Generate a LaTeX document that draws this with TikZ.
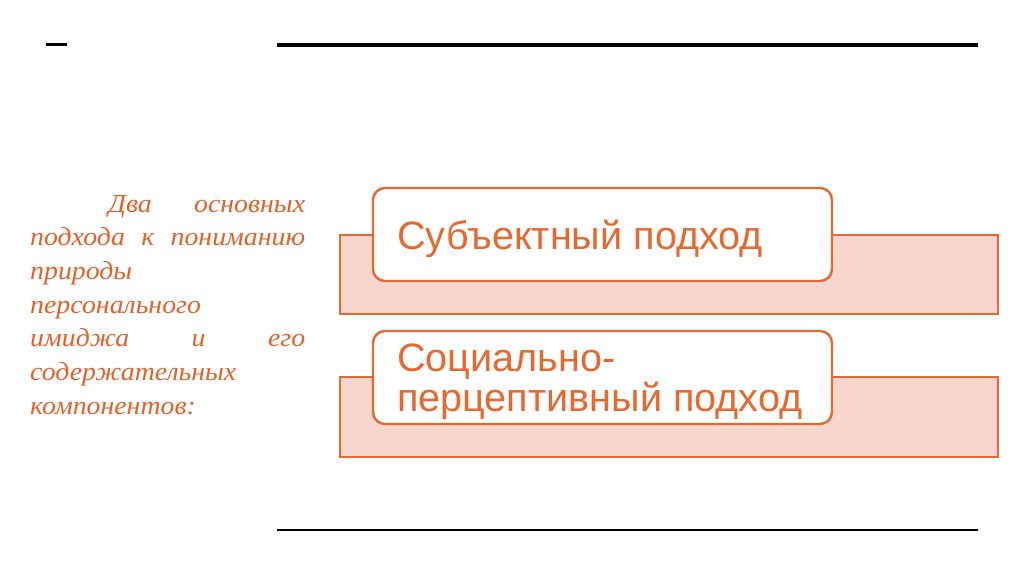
\documentclass[tikz,border=0pt]{standalone}
\usepackage{fontspec}
\setmainfont{Liberation Serif}
\newfontfamily\arialf{Liberation Sans}
\definecolor{orng}{HTML}{E8692F}
\definecolor{pinkf}{HTML}{F9D6CD}
\definecolor{txto}{HTML}{E2622B}
\tikzset{
  band/.style={draw=orng, line width=2.4pt, fill=pinkf},
  card/.style={draw=orng, line width=2.4pt, fill=white, rounded corners=12pt},
  cardtext/.style={text=orng, font=\arialf\fontsize{39.6}{46}\selectfont, anchor=base west, align=left, inner sep=0pt},
  rule/.style={line width=#1, black}
}
\begin{document}
\begin{tikzpicture}[x=1pt,y=-1pt]
\useasboundingbox (0,0) rectangle (1024,574);
% rules
\draw[rule=3.5pt] (46,44.5) coordinate (d1) -- (67,44.5) coordinate (d2);
\draw[rule=4pt] (277,44.5) coordinate (t1) -- (978,44.5) coordinate (t2);
\draw[rule=2pt] (277,530) coordinate (b1) -- (978,530) coordinate (b2);
% bands
\draw[band] (340,235) rectangle (998,314);
\draw[band] (340,377) rectangle (998,457);
% cards
\draw[card] (373,188) rectangle (832,281);
\draw[card] (373,331) rectangle (832,424);
\node[cardtext] (c1) at (397,249) {Субъектный подход};
\node[cardtext] (c2) at (397,371) {Социально-};
\node[cardtext] (c3) at (397,411) {перцептивный подход};
% left text
\node[anchor=base west, inner sep=0pt, text=txto] (lt) at (30,212) {%
\scalebox{1.07}[1]{\begin{minipage}[t]{257pt}\fontsize{26}{33.7}\selectfont\itshape
\hspace*{73pt}Два основных подхода к пониманию природы\\
персонального\\
имиджа и его\linebreak
содержательных\\
компонентов:
\end{minipage}}};
\end{tikzpicture}
\end{document}
